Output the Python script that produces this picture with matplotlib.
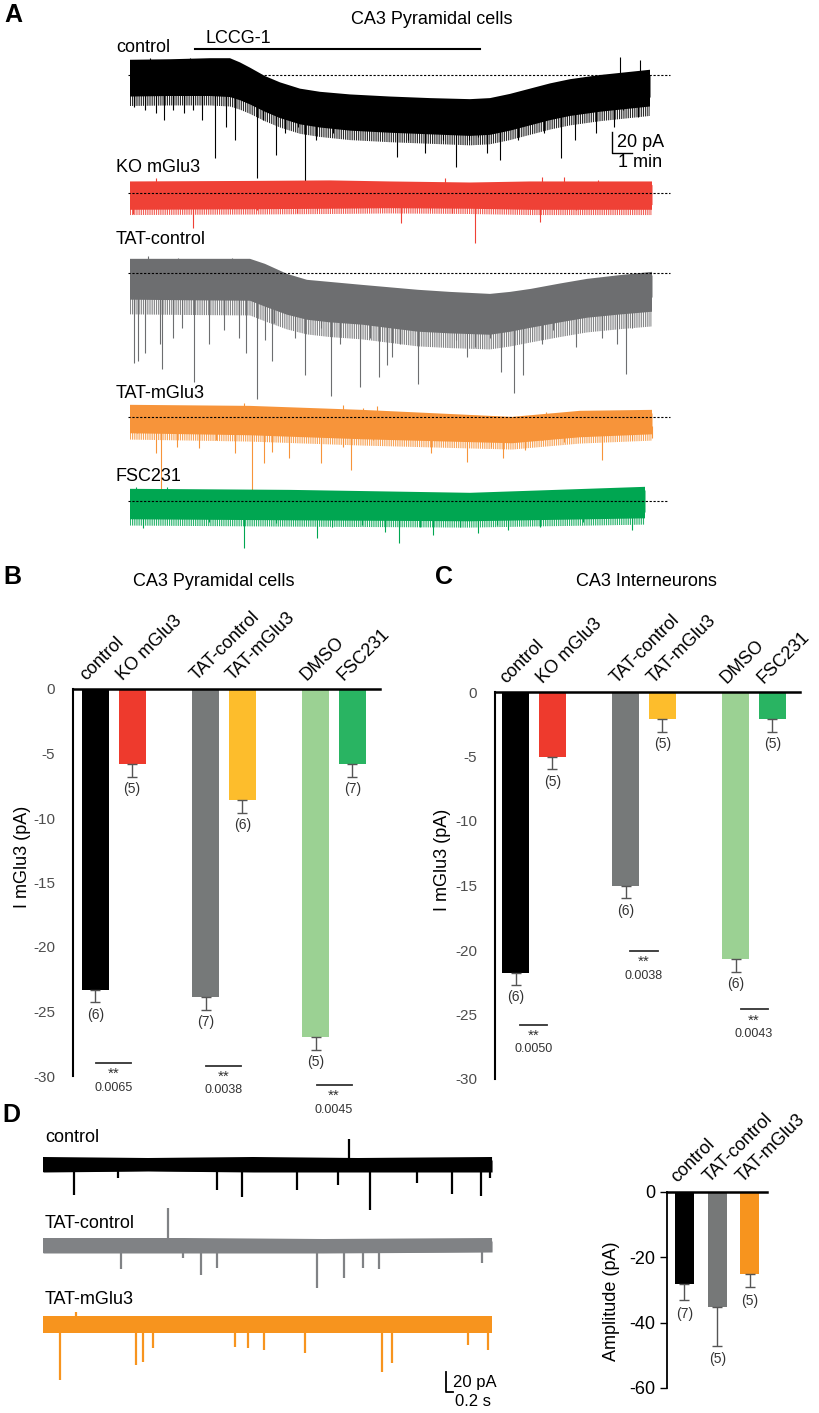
import numpy as np
import matplotlib
matplotlib.use("Agg")
import matplotlib.pyplot as plt

plt.rcParams['font.family'] = ['Liberation Sans', 'DejaVu Sans']
plt.rcParams['hatch.linewidth'] = 0.6

W, H = 820, 1413

# ---------------- panel A: slow recordings (time in min, current in pA) ----------------
ctrl_t = [0, 2, 4, 5, 5.5, 6, 6.75, 7.5, 8.5, 9.5, 11, 13, 15, 17, 18, 19, 20, 21, 22, 23.5, 25, 26]
ctrl_hi = [9.5, 10, 11, 11, 7, 2, -6, -12, -18, -21, -23.5, -25.5, -27, -28, -27, -23, -18, -13,
           -9, -5, -2, 0]
ctrl_lo = [-11.5, -11, -11, -12, -15, -19, -26, -32, -38, -41, -44, -46, -47.5, -49, -48, -44,
           -39, -34, -30, -26, -23, -21]
ctrl_ev_t = [0.2, 0.75, 1.3, 1.7, 2.15, 2.7, 3.15, 3.6, 4.25, 4.8, 5.25, 6.35, 6.65, 7.3,
             7.75, 8.4, 8.75, 9.3, 10.15, 11.05, 11.9, 12.6, 13.35, 13.9, 14.75, 15.65,
             16.3, 16.95, 17.4, 17.85, 18.5, 19.4, 20.7, 21.55, 22.25, 23.3, 24.2, 24.65,
             25.4, 25.9]
ctrl_ev_i = [-30.5, -33.3, -36.2, -42.9, -33.3, -36.2, -33.3, -42.9, -79, -49.5, -61.9, -98.1,
             -42.9, -76.2, -55.2, -49.5, -101.9, -61.9, -55.2, -49.5, -52.4, -49.5, -78.1,
             -61.9, -74.3, -61.9, -87.6, -61.9, -59, -74.3, -81, -61.9, -55.2, -79, -61.9,
             -55.2, -49.5, -33.3, -40, -26.7]
ctrl_up_t = [1.0, 3.0, 4.2, 24.5, 25.5]
ctrl_up_i = [16, 16, 15, 17, 14]

ko_t = [0, 6, 10, 13, 17, 20, 26.1]
ko_hi = [8, 8.5, 9, 8, 7, 8, 8]
ko_lo = [-11, -10.5, -10, -9.5, -10, -11, -11]
ko_ev_t = [0.15, 3.15, 6.35, 8.35, 9.35, 10.65, 13.55, 15.0, 16.1, 17.25, 20.5, 22.3, 24.7, 26.0]
ko_ev_i = [-20, -33.3, -16.2, -19, -16.2, -13.3, -28.6, -16.2, -19, -47.6, -27.6, -16.2, -14.3, -13.3]
ko_up_t = [1.3, 15.75, 20.6, 21.7, 23.4]
ko_up_i = [14.3, 14.3, 15.2, 15.2, 12.4]

tatc_t = [0, 3, 6, 6.75, 7.85, 8.85, 10, 11.6, 14.4, 16, 18, 19, 20.05, 21.5, 22.85, 24.5, 26.1]
tatc_hi = [10.5, 10.5, 10.5, 5.7, -3.8, -9.5, -11.5, -14.3, -19, -21, -22.9, -21, -18.1, -13,
           -8.6, -5, -1.9]
tatc_lo = [-11.4, -12, -12.4, -18, -25.7, -30.5, -33, -35.2, -41.9, -43.5, -44.8, -42, -38.1,
           -33, -28.6, -25.5, -22.9]
tatc_ev_t = [0.2, 0.4, 0.75, 1.5, 1.6, 2.15, 2.6, 3.2, 3.95, 4.7, 5.45, 5.8, 6.35, 6.75,
             7.1, 7.2, 8.25, 8.75, 9.55, 10.05, 10.5, 11.5, 12.0, 12.45, 12.85, 13.1,
             13.5, 14.4, 16.3, 16.85, 17.25, 18.0, 18.55, 19.2, 19.65, 20.6, 21.15,
             22.3, 23.6, 24.35, 24.8, 25.1, 26.0]
tatc_ev_i = [-85.7, -83.8, -76.2, -67.6, -91.4, -61.9, -52.4, -103.8, -67.6, -54.3, -61.9,
             -76.2, -120, -63.8, -83.8, -47.6, -61.9, -97.1, -52.4, -117.1, -67.6, -108.6,
             -61.9, -99, -87.6, -80, -67.6, -105.7, -63.8, -80, -70.5, -61.9, -94.3,
             -114.3, -97.1, -67.6, -54.3, -70.5, -61.9, -67.6, -96.2, -52.4, -35.2]
tatc_up_t = [0.9, 2.4, 5.1]
tatc_up_i = [16, 14, 14]

tatm_t = [0, 6, 11.6, 19.1, 22.5, 26.1]
tatm_hi = [8.6, 7.6, 3.8, -2.9, 2.9, 3.8]
tatm_lo = [-9.5, -11.4, -15.2, -19, -13.3, -10.5]
tatm_ev_t = [0.35, 1.3, 1.55, 2.35, 3.45, 4.3, 5.25, 6.1, 6.7, 7.1, 7.95, 9.55, 10.65, 11.05,
             12.15, 15.05, 16.85, 18.05, 18.65, 19.75, 20.6, 21.7, 23.6, 25.1, 26.1]
tatm_ev_i = [-15.2, -34.3, -69.5, -28.6, -29.5, -21.9, -34.3, -72.4, -43.8, -33.3, -39,
             -43.8, -28.6, -50.5, -21.9, -34.3, -42.9, -28.6, -39, -31.4, -21.9, -23.8,
             -41, -21.9, -20]
tatm_up_t = [5.7, 10.65, 11.65, 12.35, 20.8]
tatm_up_i = [13.3, 11.4, 8.6, 10.5, 4.8]

fsc_t = [0, 8, 17, 25.75]
fsc_hi = [8.6, 7.6, 4.8, 10.5]
fsc_lo = [-11.4, -12.4, -13.3, -10.5]
fsc_ev_t = [0.65, 1.8, 3.95, 5.7, 6.0, 7.3, 9.35, 10.1, 11.6, 12.75, 13.45, 14.5, 15.15,
            16.5, 17.4, 18.35, 18.9, 20.5, 22.65, 25.1]
fsc_ev_i = [-25.7, -15, -20, -44.8, -17, -21, -35.2, -24.8, -22.9, -29.5, -40, -24.8,
            -32.4, -24.8, -30.5, -22.9, -27.6, -24.8, -20, -27.6]
fsc_up_t = [0.3, 1.85, 25.65]
fsc_up_i = [13.3, 13.3, 12.4]

# ---------------- panel B / C: mGlu3 current ----------------
bc_groups = ['control', 'KO mGlu3', 'TAT-control', 'TAT-mGlu3', 'DMSO', 'FSC231']
bc_colors = ['#000000', '#ee3a2d', '#767979', '#fdbd2c', '#9bd193', '#29b462']
pyr_mean = [-23.3, -5.8, -23.9, -8.6, -27.0, -5.8]
pyr_sem = [1.0, 1.0, 1.0, 1.0, 1.0, 1.0]
pyr_n = [6, 5, 7, 6, 5, 7]
pyr_p = ['0.0065', '0.0038', '0.0045']
pyr_sig_y = [-29.0, -29.2, -30.7]
int_mean = [-21.8, -5.0, -15.0, -2.1, -20.7, -2.1]
int_sem = [0.9, 1.0, 1.0, 1.0, 1.0, 1.0]
int_n = [6, 5, 6, 5, 6, 5]
int_p = ['0.0050', '0.0038', '0.0043']
int_sig_y = [-25.8, -20.1, -24.6]

# ---------------- panel D: spontaneous events (time in s, current in pA) ----------------
d_ctrl_t = [0, 3, 6, 9, 12.83]
d_ctrl_hi = [6, 5, 6, 5, 6]
d_ctrl_lo = [-6, -5, -6, -6, -6]
d_ctrl_ev_t = [0.89, 2.14, 4.97, 5.69, 7.26, 8.43, 9.34, 10.69, 11.69, 12.51, 12.77]
d_ctrl_ev_i = [-29, -12, -24, -31, -24, -19, -44, -17, -28, -30, -12]
d_ctrl_up_t = [8.74]
d_ctrl_up_i = [27]

d_tatc_t = [0, 4, 8, 12.83]
d_tatc_hi = [6, 6, 5, 6]
d_tatc_lo = [-6, -6, -6, -5]
d_tatc_ev_t = [2.23, 4.0, 4.51, 4.97, 7.83, 8.6, 9.14, 9.6, 12.54]
d_tatc_ev_i = [-22, -11, -28, -21, -41, -31, -21, -22, -16]
d_tatc_up_t = [3.57]
d_tatc_up_i = [39]

d_tatm_t = [0, 4, 8, 12.83]
d_tatm_hi = [7, 7, 7, 7]
d_tatm_lo = [-7, -7, -7, -7]
d_tatm_ev_t = [0.49, 2.66, 2.86, 3.14, 5.49, 5.86, 6.31, 7.49, 9.69, 9.97, 12.14, 12.71]
d_tatm_ev_i = [-54, -39, -36, -22, -21, -22, -24, -27, -46, -37, -19, -24]
d_tatm_up_t = [0.94]
d_tatm_up_i = [14]

amp_groups = ['control', 'TAT-control', 'TAT-mGlu3']
amp_colors = ['#000000', '#767878', '#f7941e']
amp_mean = [-28.3, -35.1, -25.2]
amp_sem = [4.9, 11.9, 4.0]
amp_n = [7, 5, 5]

fig = plt.figure(figsize=(W / 100, H / 100), dpi=100)


def trace_axes(x0, ybase, tlim, ilim, px_t, px_i):
    # axes placed so that (t, I) lands at pixel (x0 + t*px_t, ybase - I*px_i)
    left = x0 + tlim[0] * px_t
    right = x0 + tlim[1] * px_t
    top = ybase - ilim[1] * px_i
    bottom = ybase - ilim[0] * px_i
    ax = fig.add_axes([left / W, 1 - bottom / H, (right - left) / W, (bottom - top) / H])
    ax.set_xlim(*tlim)
    ax.set_ylim(*ilim)
    ax.axis('off')
    ax.patch.set_visible(False)
    return ax


def draw_trace(ax, t, hi, lo, ev_t, ev_i, up_t, up_i, color, lw=0.8, fr_hi=4, fr_lo=8, dense=28):
    t, hi, lo = np.asarray(t), np.asarray(hi), np.asarray(lo)
    # ragged noise fringe: sparse outer comb, dense inner comb, solid core drawn last
    if fr_lo > 0:
        ax.fill_between(t, lo - 2 * fr_lo, hi, facecolor='none', edgecolor=color,
                        hatch='|' * 9, lw=0)
    ax.fill_between(t, lo - fr_lo, hi + fr_hi, facecolor='none', edgecolor=color,
                    hatch='|' * dense, lw=0)
    ax.fill_between(t, lo, hi, color=color, lw=0)
    ax.vlines(ev_t, ev_i, np.interp(ev_t, t, lo) + 2, color=color, lw=lw)
    ax.vlines(up_t, np.interp(up_t, t, hi) - 2, up_i, color=color, lw=lw)


def label(x, y, s, **kw):
    fig.text(x / W, 1 - y / H, s, va='center', **kw)


# ---- panel A ----
label(4, 15, 'A', fontsize=18, fontweight='bold')
label(432, 20, 'CA3 Pyramidal cells', fontsize=13, ha='center')
a_x0, a_pt, a_pi = 130, 20, 1.05
a_traces = [
    (75, (-110, 42), ctrl_t, ctrl_hi, ctrl_lo, ctrl_ev_t, ctrl_ev_i, ctrl_up_t, ctrl_up_i, '#000000', 27.0, 5, 9),
    (193, (-55, 20), ko_t, ko_hi, ko_lo, ko_ev_t, ko_ev_i, ko_up_t, ko_up_i, '#ef4136', 27.0, 3, 5),
    (273, (-125, 20), tatc_t, tatc_hi, tatc_lo, tatc_ev_t, tatc_ev_i, tatc_up_t, tatc_up_i, '#6d6e70', 27.0, 3, 14),
    (417, (-80, 20), tatm_t, tatm_hi, tatm_lo, tatm_ev_t, tatm_ev_i, tatm_up_t, tatm_up_i, '#f7943a', 27.0, 3, 6),
    (501, (-50, 20), fsc_t, fsc_hi, fsc_lo, fsc_ev_t, fsc_ev_i, fsc_up_t, fsc_up_i, '#00a651', 26.85, 3, 6),
]
a_axes = []
for ybase, ilim, t, hi, lo, et, ei, ut, ui, col, tend, fh, fl in a_traces:
    ax = trace_axes(a_x0, ybase, (-0.5, 27.5), ilim, a_pt, a_pi)
    draw_trace(ax, t, hi, lo, et, ei, ut, ui, col, fr_hi=fh, fr_lo=fl)
    ax.hlines(0, -0.1, tend, color='k', lw=0.8, linestyles=(0, (2, 1.5)), zorder=5)
    a_axes.append(ax)

for y, s in zip([48, 167, 240, 394, 477], ['control', 'KO mGlu3', 'TAT-control', 'TAT-mGlu3', 'FSC231']):
    label(116, y, s, fontsize=13)

axc = a_axes[0]
axc.plot([3.25, 17.5], [24.8, 24.8], color='k', lw=1.5)
axc.text(3.8, 35.2, 'LCCG-1', fontsize=13, va='center')
axc.plot([25.1, 24.1, 24.1], [-74.3, -74.3, -54.3], color='k', lw=1)
axc.text(24.35, -64, '20 pA', fontsize=13, va='center')
axc.text(24.4, -83, '1 min', fontsize=13, va='center')


# ---- panels B and C ----
def bar_panel(rect, xlim, means, sems, ns, pvals, sig_y, sig_w, title, title_x, letter, letter_x, ylab_x):
    x0, y0, x1, y1 = rect
    ax = fig.add_axes([x0 / W, 1 - y1 / H, (x1 - x0) / W, (y1 - y0) / H])
    pos = np.arange(6) + np.repeat([0, 1, 2], 2)
    ax.bar(pos, means, width=0.735, color=bc_colors, zorder=2)
    ax.errorbar(pos, means, yerr=[sems, np.zeros(6)], fmt='none', ecolor='#555555',
                elinewidth=1, capsize=3.5, capthick=1, zorder=3)
    for p, m, s, n in zip(pos, means, sems, ns):
        ax.text(p, m - s - 0.95, f'({n})', ha='center', va='center', fontsize=10, color='#333333')
    for p, g in zip(pos, bc_groups):
        ax.text(p - 0.25, 0.6, g, rotation=45, rotation_mode='anchor', ha='left',
                va='baseline', fontsize=13)
    for k, (pv, sy) in enumerate(zip(pvals, sig_y)):
        mid = pos[2 * k] + 0.5
        ax.plot([mid - sig_w / 2, mid + sig_w / 2], [sy, sy], color='#333333', lw=1.3, clip_on=False)
        ax.text(mid, sy - 0.85, '**', ha='center', va='center', fontsize=11, color='#333333')
        ax.text(mid, sy - 1.9, pv, ha='center', va='center', fontsize=9, color='#333333')
    ax.set_xlim(*xlim)
    ax.set_ylim(-30, 0)
    ax.set_yticks([-30, -25, -20, -15, -10, -5, 0])
    ax.set_yticklabels(['-30', '-25', '-20', '-15', '-10', '-5', '0'])
    ax.tick_params(axis='y', length=0, pad=13, labelsize=11, labelcolor='#4d4d4d')
    ax.set_xticks([])
    for sp in ['right', 'bottom']:
        ax.spines[sp].set_visible(False)
    ax.spines['top'].set_linewidth(1.8)
    ax.spines['left'].set_linewidth(1.5)
    ax.set_ylabel('I mGlu3 (pA)', fontsize=13)
    ax.yaxis.set_label_coords((ylab_x - x0) / (x1 - x0), 0.565)
    label(title_x, 582, title, fontsize=13, ha='center')
    label(letter_x, 577, letter, fontsize=18, fontweight='bold')
    return ax


bar_panel((73, 689, 380, 1076), (-0.61, 7.75), pyr_mean, pyr_sem, pyr_n, pyr_p, pyr_sig_y, 0.95,
          'CA3 Pyramidal cells', 214, 'B', 3, 31)
bar_panel((495, 692, 800, 1079), (-0.56, 7.75), int_mean, int_sem, int_n, int_p, int_sig_y, 0.74,
          'CA3 Interneurons', 646, 'C', 435, 451)

# ---- panel D traces ----
label(2, 1115, 'D', fontsize=18, fontweight='bold')
d_x0, d_pt, d_pi = 43, 35, 1.0
d_traces = [
    (1166, (-50, 30), d_ctrl_t, d_ctrl_hi, d_ctrl_lo, d_ctrl_ev_t, d_ctrl_ev_i, d_ctrl_up_t, d_ctrl_up_i, '#000000'),
    (1247, (-45, 42), d_tatc_t, d_tatc_hi, d_tatc_lo, d_tatc_ev_t, d_tatc_ev_i, d_tatc_up_t, d_tatc_up_i, '#808285'),
    (1326, (-85, 20), d_tatm_t, d_tatm_hi, d_tatm_lo, d_tatm_ev_t, d_tatm_ev_i, d_tatm_up_t, d_tatm_up_i, '#f7941e'),
]
d_axes = []
for ybase, ilim, t, hi, lo, et, ei, ut, ui, col in d_traces:
    ax = trace_axes(d_x0, ybase, (-0.1, 13.2), ilim, d_pt, d_pi)
    draw_trace(ax, t, hi, lo, et, ei, ut, ui, col, lw=1.6, fr_hi=3, fr_lo=0, dense=40)
    d_axes.append(ax)
for y, s in zip([1137, 1224, 1300], ['control', 'TAT-control', 'TAT-mGlu3']):
    label(45, y, s, fontsize=13)
axo = d_axes[2]
axo.plot([11.71, 11.51, 11.51], [-66, -66, -46], color='k', lw=1.3)
axo.text(11.72, -57, '20 pA', fontsize=12, va='center')
axo.text(12.29, -76, '0.2 s', fontsize=12, va='center', ha='center')

# ---- panel D bars ----
axd = fig.add_axes([667 / W, 1 - 1388 / H, 100 / W, 196 / H])
dpos = np.arange(3)
axd.bar(dpos, amp_mean, width=0.58, color=amp_colors, zorder=2)
axd.errorbar(dpos, amp_mean, yerr=[amp_sem, np.zeros(3)], fmt='none', ecolor='#555555',
             elinewidth=1, capsize=3.5, capthick=1, zorder=3)
for p, m, s, n in zip(dpos, amp_mean, amp_sem, amp_n):
    axd.text(p, m - s - 4.2, f'({n})', ha='center', va='center', fontsize=10, color='#333333')
for p, g in zip(dpos, amp_groups):
    axd.text(p - 0.23, 2.75, g, rotation=45, rotation_mode='anchor', ha='left',
             va='baseline', fontsize=13)
axd.set_xlim(-0.534, 2.52)
axd.set_ylim(-60, 0)
axd.set_yticks([-60, -40, -20, 0])
axd.set_yticklabels(['-60', '-40', '-20', '0'])
axd.tick_params(axis='y', length=5, width=1, labelsize=13)
axd.set_xticks([])
for sp in ['right', 'bottom']:
    axd.spines[sp].set_visible(False)
axd.spines['top'].set_linewidth(1.8)
axd.spines['left'].set_linewidth(1.3)
axd.set_ylabel('Amplitude (pA)', fontsize=13)
axd.yaxis.set_label_coords(-0.47, 0.444)

fig.savefig('out.png', dpi=100)
